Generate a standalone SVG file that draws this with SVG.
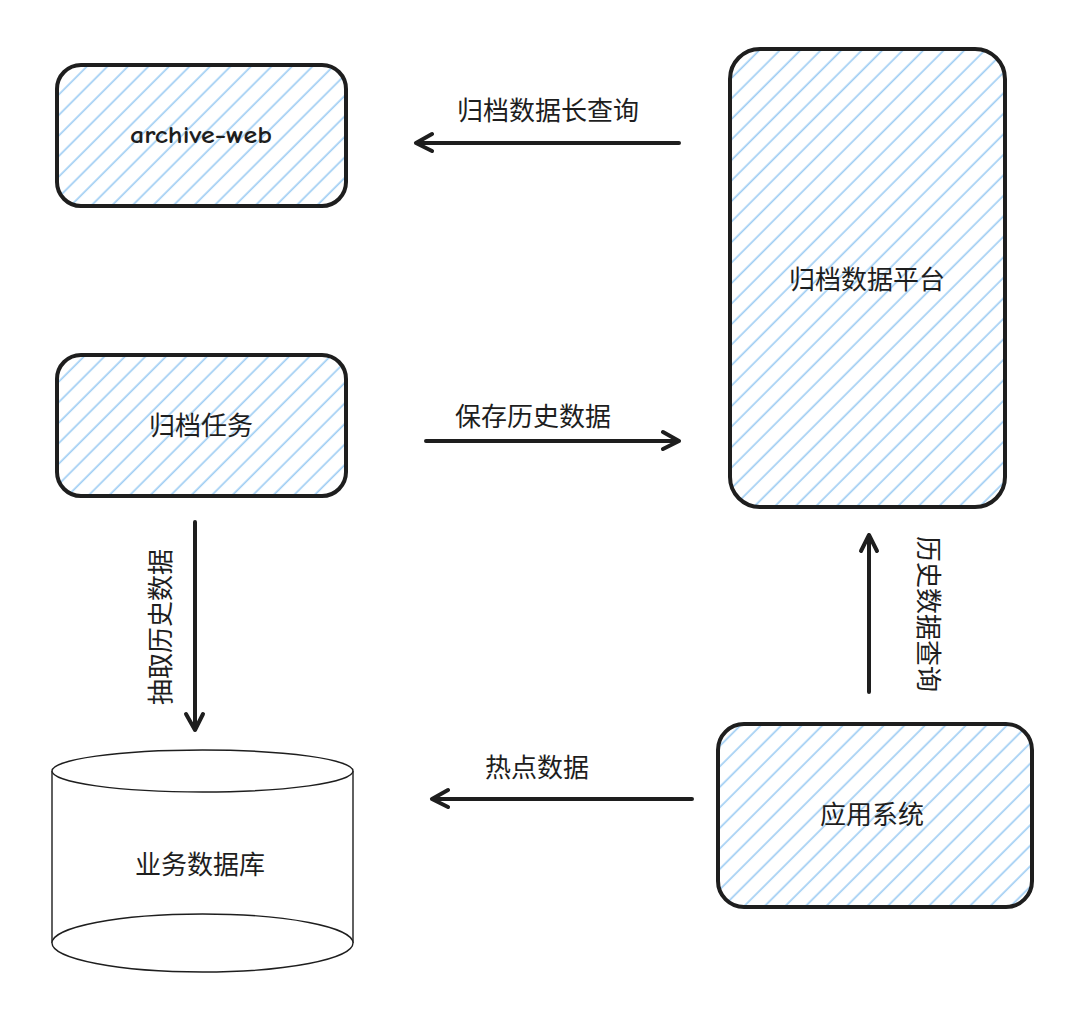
<svg xmlns="http://www.w3.org/2000/svg" width="1080" height="1009" viewBox="0 0 1080 1009">
<defs>
<pattern id="hatch" patternUnits="userSpaceOnUse" width="14.5" height="14.5" patternTransform="rotate(-45)">
<line x1="0" y1="7" x2="14.5" y2="7" stroke="#9fcdf3" stroke-width="1.7"/>
</pattern>
<style>
.box{fill:url(#hatch);stroke:#1e1e1e;stroke-width:4}
.cyl{fill:#ffffff;stroke:#1e1e1e;stroke-width:1.4}
.lbl{font-family:"Noto Sans CJK SC","Noto Sans",sans-serif;font-size:26px;fill:#1e1e1e;text-anchor:middle;dominant-baseline:central}
.hand{font-family:"Comic Neue","Liberation Sans",sans-serif;font-size:24px;font-weight:bold;fill:#1e1e1e;text-anchor:middle;dominant-baseline:central}
.arr{fill:none;stroke:#1e1e1e;stroke-width:4;stroke-linecap:round;stroke-linejoin:round}
</style>
</defs>
<rect width="1080" height="1009" fill="#ffffff"/>

<g id="archive-web">
<rect class="box" x="57" y="65" width="289" height="141" rx="24"/>
<text class="hand" x="201" y="135" textLength="142" lengthAdjust="spacingAndGlyphs">archive-web</text>
</g>

<g id="platform">
<rect class="box" x="730" y="49" width="275" height="458" rx="30"/>
<text class="lbl" x="867" y="277">归档数据平台</text>
</g>

<g id="archive-task">
<rect class="box" x="57" y="355" width="289" height="141" rx="24"/>
<text class="lbl" x="201" y="423">归档任务</text>
</g>

<g id="app-system">
<rect class="box" x="718" y="724" width="314" height="183" rx="26"/>
<text class="lbl" x="872" y="812">应用系统</text>
</g>

<g id="biz-db">
<path class="cyl" d="M52,771 L52,943 A150.5,29 0 0 0 353,943 L353,771"/>
<path class="cyl" d="M52,943 A150.5,29 0 0 1 353,943"/>
<ellipse class="cyl" cx="202.5" cy="771" rx="150.5" ry="21"/>
<text class="lbl" x="200" y="862">业务数据库</text>
</g>

<g id="connectors">
<g id="e1">
<path class="arr" d="M679,143 L416,143 M432,134 L416,143 L432,151"/>
<text class="lbl" x="548" y="108">归档数据长查询</text>
</g>
<g id="e2">
<path class="arr" d="M426,441 L679,441 M663,432 L679,441 L663,449"/>
<text class="lbl" x="533" y="414">保存历史数据</text>
</g>
<g id="e3">
<path class="arr" d="M195,522 L195,730 M186,714 L195,730 L203,714"/>
<text class="lbl" transform="translate(158,627) rotate(-90)" x="0" y="0">抽取历史数据</text>
</g>
<g id="e4">
<path class="arr" d="M869,692 L869,535 M861,551 L869,535 L877,551"/>
<text class="lbl" transform="translate(930,614) rotate(90)" x="0" y="0">历史数据查询</text>
</g>
<g id="e5">
<path class="arr" d="M692,799 L432,799 M448,790 L432,799 L448,807"/>
<text class="lbl" x="537" y="765">热点数据</text>
</g>
</g>
</svg>
